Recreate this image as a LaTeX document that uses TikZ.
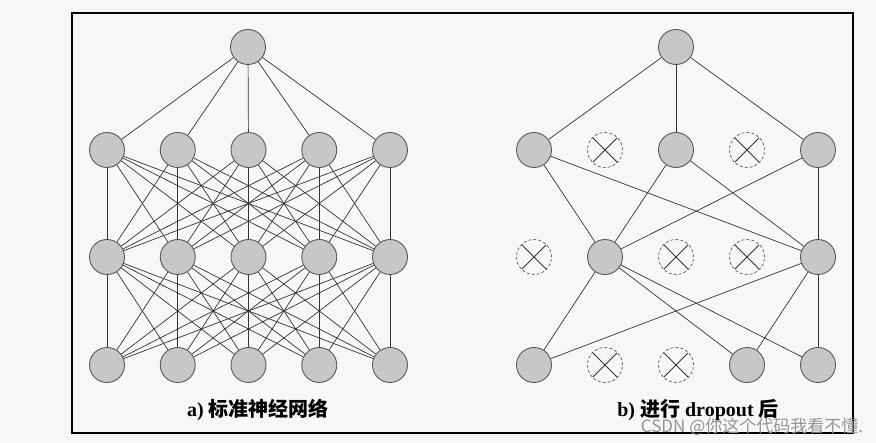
\documentclass[tikz,border=0pt]{standalone}
\usepackage{fontspec}
\setmainfont{Liberation Serif}
\newfontfamily\cjk{Noto Sans CJK SC}
\begin{document}
\begin{tikzpicture}[x=1pt,y=-1pt,
  neuron/.style={circle,draw=black!65,fill=black!22,line width=0.9pt,minimum size=35pt,inner sep=0pt},
  dropped/.style={circle,draw=black!60,dashed,dash pattern=on 3pt off 2pt,line width=0.75pt,minimum size=35pt,inner sep=0pt,
    path picture={\draw[black!80,line width=0.75pt,solid]
      ([shift={(-12,-12)}]path picture bounding box.center) -- ([shift={(12,12)}]path picture bounding box.center)
      ([shift={(-12,12)}]path picture bounding box.center) -- ([shift={(12,-12)}]path picture bounding box.center);}},
  link/.style={draw=black!80,line width=0.7pt},
  caption/.style={font=\bfseries\fontsize{20}{24}\selectfont,inner sep=0pt}]
\useasboundingbox (0,0) rectangle (876,443);
\fill[black!3] (0,0) rectangle (876,443);
\draw[line width=1.2pt] (72,13) rectangle (853,433);

% ---------- left: standard network ----------
\node[neuron] (Lt) at (248,47) {};
\foreach \i in {1,...,5} {
  \node[neuron] (La\i) at ({107+70.75*(\i-1)},150) {};
  \node[neuron] (Lb\i) at ({107+70.75*(\i-1)},257) {};
  \node[neuron] (Lc\i) at ({107+70.75*(\i-1)},365) {};
}
\foreach \i in {1,...,5} {
  \draw[link] (Lt) -- (La\i);
  \foreach \j in {1,...,5} {
    \draw[link] (La\i) -- (Lb\j);
    \draw[link] (Lb\i) -- (Lc\j);
  }
}
\node[caption] (capa) at (258,410) {a) {\cjk 标准神经网络}};

% ---------- right: after dropout ----------
\node[neuron] (Rt) at (676,47) {};
\node[neuron]  (Ra1) at (534,150) {};
\node[dropped] (Ra2) at (605,150) {};
\node[neuron]  (Ra3) at (676,150) {};
\node[dropped] (Ra4) at (747,150) {};
\node[neuron]  (Ra5) at (818,150) {};
\node[dropped] (Rb1) at (534,257) {};
\node[neuron]  (Rb2) at (605,257) {};
\node[dropped] (Rb3) at (676,257) {};
\node[dropped] (Rb4) at (747,257) {};
\node[neuron]  (Rb5) at (818,257) {};
\node[neuron]  (Rc1) at (534,365) {};
\node[dropped] (Rc2) at (605,365) {};
\node[dropped] (Rc3) at (676,365) {};
\node[neuron]  (Rc4) at (747,365) {};
\node[neuron]  (Rc5) at (818,365) {};
\foreach \a in {1,3,5} {
  \draw[link] (Rt) -- (Ra\a);
  \foreach \b in {2,5} \draw[link] (Ra\a) -- (Rb\b);
}
\foreach \b in {2,5} {
  \foreach \c in {1,4,5} \draw[link] (Rb\b) -- (Rc\c);
}
\node[caption] (capb) at (698,410) {b) {\cjk 进行} dropout {\cjk 后}};

% watermark
\node[font=\cjk\fontsize{17}{20}\selectfont,text=black!42,inner sep=0pt] (wm) at (752,427) {CSDN @你这个代码我看不懂.};
\end{tikzpicture}
\end{document}
